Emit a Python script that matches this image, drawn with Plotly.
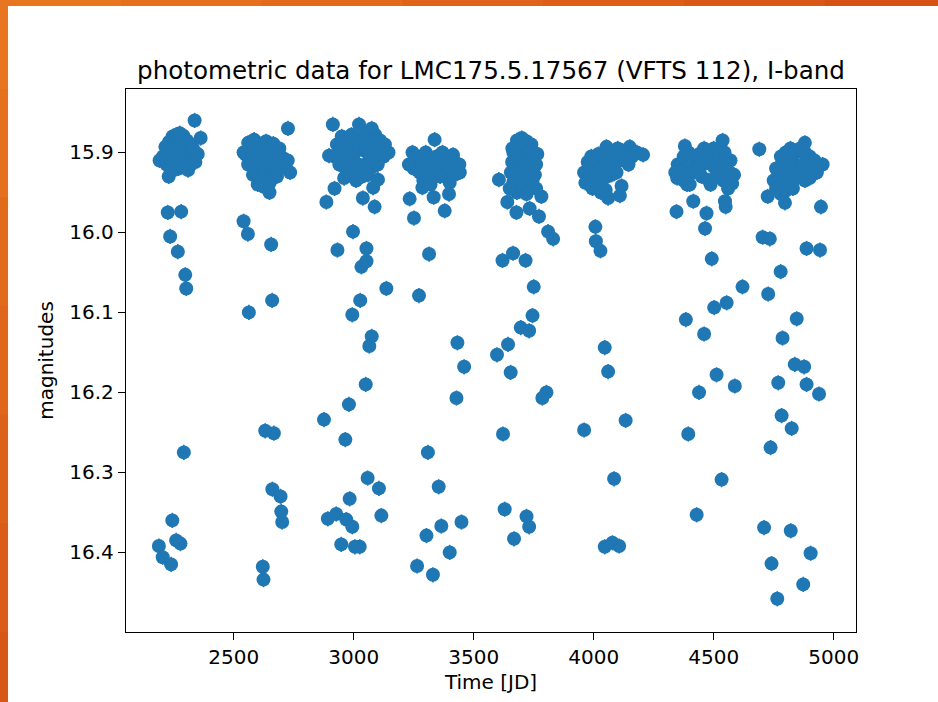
import plotly.graph_objects as go

# ---- data: observing seasons (time [JD], I-band magnitude) ----
t1 = [2191, 2229, 2337, 2362, 2225, 2281, 2235, 2267, 2298, 2302, 2292, 2244, 2188, 2204, 2239, 2260, 2278,
      2215, 2230, 2245, 2260, 2275, 2290, 2305, 2320, 2205, 2225, 2240, 2255, 2270, 2285, 2300, 2315, 2335, 2350,
      2220, 2240, 2260, 2280, 2300, 2320, 2340, 2250, 2270, 2290, 2310, 2265, 2245, 2330]
m1 = [15.910, 15.930, 15.860, 15.882, 15.975, 15.974, 16.005, 16.024, 16.053, 16.070, 16.275, 16.360, 16.392, 16.406, 16.415, 16.385, 16.389,
      15.893, 15.887, 15.880, 15.878, 15.876, 15.879, 15.885, 15.890, 15.905, 15.902, 15.898, 15.893, 15.890, 15.895, 15.900, 15.903, 15.905, 15.902,
      15.915, 15.912, 15.910, 15.908, 15.913, 15.915, 15.912, 15.922, 15.920, 15.918, 15.922, 15.900, 15.918, 15.895]

t2 = [2726, 2541, 2649, 2541, 2559, 2656, 2563, 2660, 2631, 2667, 2621, 2624, 2661, 2695, 2698, 2702,
      2560, 2585, 2610, 2635, 2665, 2690, 2550, 2575, 2600, 2625, 2650, 2675, 2700, 2725, 2560, 2585, 2610, 2635,
      2660, 2685, 2710, 2580, 2605, 2630, 2655, 2680, 2600, 2625, 2650, 2735]
m2 = [15.870, 15.900, 15.950, 15.986, 16.002, 16.015, 16.100, 16.085, 16.248, 16.251, 16.418, 16.434, 16.321, 16.330, 16.349, 16.362,
      15.888, 15.884, 15.890, 15.886, 15.889, 15.895, 15.903, 15.900, 15.905, 15.898, 15.903, 15.900, 15.906, 15.910, 15.915, 15.918, 15.912, 15.920,
      15.915, 15.920, 15.918, 15.928, 15.930, 15.927, 15.932, 15.930, 15.940, 15.943, 15.938, 15.925]

t3 = [2913, 3022, 2897, 2920, 2886, 2997, 2932, 3032, 3053, 3053, 3027, 2994, 3075, 3065, 3050, 2980, 2876, 2965,
      3136, 3058, 3105, 3115, 3025, 2892, 2927, 2969, 2994, 2983, 2948, 3005, 3087, 3101, 3081, 3038,
      2930, 2950, 2970, 2990, 3010, 3030, 3050, 3070, 3090, 3110, 3130, 2920, 2945, 2965, 2985, 3005, 3025, 3045,
      3065, 3085, 3105, 3125, 3145, 2940, 2960, 2980, 3000, 3020, 3040, 3060, 3080, 3100, 2960, 2985, 3010, 3035,
      3060, 2955, 3075]
m3 = [15.865, 15.865, 15.904, 15.945, 15.962, 15.999, 16.022, 16.043, 16.036, 16.020, 16.085, 16.103, 16.130, 16.142, 16.190, 16.215, 16.234, 16.259,
      16.070, 16.307, 16.320, 16.354, 16.393, 16.358, 16.352, 16.359, 16.368, 16.333, 16.390, 16.393, 15.968, 15.934, 15.944, 15.957,
      15.890, 15.880, 15.885, 15.878, 15.882, 15.875, 15.880, 15.885, 15.878, 15.885, 15.890, 15.905, 15.900, 15.898, 15.895, 15.900, 15.895, 15.898,
      15.902, 15.898, 15.902, 15.905, 15.900, 15.915, 15.918, 15.912, 15.920, 15.915, 15.918, 15.912, 15.918, 15.915, 15.932, 15.928, 15.935, 15.930,
      15.928, 15.890, 15.870]

t4 = [3337, 3245, 3233, 3286, 3333, 3397, 3379, 3251, 3314, 3442, 3414, 3272, 3432, 3460, 3428, 3309, 3354, 3365,
      3449, 3303, 3400, 3264, 3330,
      3260, 3285, 3300, 3320, 3345, 3370, 3395, 3420, 3250, 3275, 3300, 3320, 3345, 3370, 3395, 3420, 3290, 3320,
      3360, 3400, 3440, 3230]
m4 = [15.884, 15.900, 15.958, 15.944, 15.956, 15.952, 15.973, 15.982, 16.027, 15.925, 15.903, 16.079, 16.138, 16.168, 16.207, 16.275, 16.318, 16.367,
      16.362, 16.379, 16.400, 16.417, 16.428,
      15.905, 15.910, 15.900, 15.908, 15.905, 15.900, 15.910, 15.912, 15.920, 15.925, 15.918, 15.925, 15.920, 15.915, 15.925, 15.928, 15.935, 15.940,
      15.930, 15.938, 15.915, 15.915]

t5 = [3605, 3661, 3722, 3640, 3678, 3733, 3772, 3782, 3810, 3831, 3620, 3664, 3716, 3750, 3745, 3696, 3731, 3643,
      3597, 3654, 3803, 3786, 3622, 3629, 3720, 3731, 3668,
      3680, 3700, 3720, 3740, 3665, 3685, 3705, 3725, 3745, 3765, 3660, 3680, 3700, 3720, 3740, 3760, 3655, 3675,
      3695, 3715, 3735, 3755, 3665, 3685, 3705, 3725, 3745, 3680, 3700, 3720, 3650, 3760]
m5 = [15.934, 15.895, 15.888, 15.962, 15.975, 15.970, 15.980, 15.955, 15.999, 16.008, 16.035, 16.026, 16.035, 16.068, 16.104, 16.119, 16.123, 16.140,
      16.153, 16.175, 16.200, 16.207, 16.252, 16.346, 16.355, 16.368, 16.383,
      15.885, 15.882, 15.886, 15.890, 15.900, 15.897, 15.895, 15.900, 15.898, 15.902, 15.912, 15.910, 15.908, 15.912, 15.910, 15.915, 15.925, 15.922,
      15.925, 15.920, 15.925, 15.928, 15.937, 15.940, 15.935, 15.938, 15.935, 15.950, 15.947, 15.952, 15.945, 15.945]

t6 = [4053, 4060, 4007, 4009, 4028, 4206, 4150, 4116, 4109, 4046, 4060, 3960, 4133, 4085, 4046, 4078, 4106,
      3960, 3975, 3990, 4005, 4020, 4040, 4060, 4080, 4100, 4120, 4140, 4160, 4180, 3965, 3985, 4005, 4025, 4045,
      4065, 4085, 4105, 4125, 4145, 3995, 4015, 4035, 4055, 4075, 4095, 4030, 4050]
m6 = [15.893, 15.957, 15.993, 16.011, 16.023, 15.903, 15.893, 15.942, 15.954, 16.144, 16.174, 16.247, 16.235, 16.308, 16.393, 16.388, 16.392,
      15.925, 15.912, 15.905, 15.910, 15.902, 15.905, 15.898, 15.900, 15.895, 15.898, 15.902, 15.905, 15.900, 15.938, 15.930, 15.925, 15.920, 15.918,
      15.915, 15.912, 15.910, 15.908, 15.915, 15.945, 15.940, 15.935, 15.930, 15.928, 15.925, 15.950, 15.947]

t7 = [4537, 4380, 4348, 4389, 4487, 4577, 4415, 4345, 4470, 4547, 4550, 4464, 4492, 4620, 4502, 4554, 4384, 4460,
      4512, 4588, 4439, 4394, 4533, 4429,
      4350, 4375, 4395, 4420, 4440, 4460, 4480, 4500, 4525, 4545, 4570, 4340, 4360, 4385, 4410, 4435, 4455, 4475,
      4500, 4520, 4540, 4565, 4585, 4375, 4400, 4450, 4480, 4510, 4540, 4560]
m7 = [15.885, 15.892, 15.932, 15.940, 15.940, 15.939, 15.961, 15.974, 15.976, 15.961, 15.968, 15.995, 16.033, 16.068, 16.094, 16.088, 16.109, 16.127,
      16.178, 16.192, 16.200, 16.252, 16.309, 16.353,
      15.915, 15.905, 15.900, 15.908, 15.902, 15.895, 15.900, 15.895, 15.905, 15.900, 15.910, 15.925, 15.928, 15.920, 15.925, 15.918, 15.915, 15.912,
      15.918, 15.920, 15.915, 15.925, 15.928, 15.935, 15.940, 15.930, 15.935, 15.930, 15.935, 15.945]

t8 = [4690, 4880, 4954, 4725, 4797, 4947, 4704, 4734, 4887, 4943, 4779, 4727, 4846, 4787, 4838, 4877, 4769, 4887,
      4939, 4783, 4825, 4737, 4710, 4821, 4904, 4741, 4873, 4765,
      4760, 4780, 4800, 4820, 4840, 4860, 4880, 4900, 4920, 4750, 4770, 4790, 4810, 4830, 4850, 4870, 4890, 4910,
      4930, 4760, 4780, 4800, 4820, 4840, 4860, 4880, 4900, 4780, 4800, 4830]
m8 = [15.896, 15.888, 15.915, 15.955, 15.963, 15.968, 16.006, 16.008, 16.020, 16.022, 16.049, 16.077, 16.108, 16.132, 16.165, 16.168, 16.188, 16.190,
      16.202, 16.229, 16.245, 16.269, 16.369, 16.373, 16.401, 16.414, 16.440, 16.458,
      15.920, 15.905, 15.900, 15.895, 15.900, 15.895, 15.900, 15.905, 15.910, 15.935, 15.925, 15.918, 15.915, 15.912, 15.918, 15.915, 15.920, 15.918,
      15.925, 15.945, 15.940, 15.935, 15.930, 15.933, 15.930, 15.935, 15.932, 15.952, 15.948, 15.945]

x_ticks = [2500, 3000, 3500, 4000, 4500, 5000]
y_ticks = [15.9, 16.0, 16.1, 16.2, 16.3, 16.4]

times = t1 + t2 + t3 + t4 + t5 + t6 + t7 + t8
mags = m1 + m2 + m3 + m4 + m5 + m6 + m7 + m8

BLUE = "#1f77b4"
FONT = "DejaVu Sans"

fig = go.Figure()
fig.add_trace(go.Scatter(
    x=times, y=mags, mode="markers",
    marker=dict(color=BLUE, size=14, line=dict(width=0)),
    error_y=dict(type="constant", value=0.0095, color=BLUE, thickness=1.6, width=0),
    showlegend=False, hoverinfo="x+y",
))

# slide-style orange border strips (top and left), overlapping segments => no seams
shapes = []
top_cols = ["#E8761F", "#E5701D", "#E26A1B", "#DF6419", "#DC5E17", "#D95815", "#D65213"]
n = len(top_cols)
seg = (1.15 + 0.2) / n
for i, c in enumerate(top_cols):
    x0 = -0.2 + i * seg
    x1 = x0 + seg + (0.02 if i < n - 1 else 0)
    shapes.append(dict(type="rect", xref="paper", yref="paper", x0=x0, x1=x1,
                       y0=1.1529, y1=1.2, fillcolor=c, line=dict(width=0), layer="below"))
left_cols = ["#E8751F", "#E5701D", "#E26B1B", "#DF661A", "#DC6119", "#D95C18", "#D65716"]
m = len(left_cols)
segy = (1.2 + 0.2) / m
for i, c in enumerate(left_cols):
    y1 = 1.2 - i * segy
    y0 = y1 - segy - (0.02 if i < m - 1 else 0)
    shapes.append(dict(type="rect", xref="paper", yref="paper", x0=-0.2, x1=-0.1616,
                       y0=y0, y1=y1, fillcolor=c, line=dict(width=0), layer="below"))

axis_common = dict(
    showgrid=False, zeroline=False, showline=True, linecolor="black", linewidth=1.4,
    mirror=True, ticks="outside", ticklen=7, tickwidth=1.4, tickcolor="black",
    tickfont=dict(family=FONT, size=20, color="black"),
)

fig.update_layout(
    width=938, height=702, autosize=False,
    margin=dict(l=126, r=82, t=89, b=70),
    paper_bgcolor="white", plot_bgcolor="white",
    font=dict(family=FONT, color="black"),
    title=dict(text="photometric data for LMC175.5.17567 (VFTS 112), I-band",
               font=dict(family=FONT, size=24.6, color="black"),
               x=0.5, xref="paper", xanchor="center",
               y=1 - 70 / 702, yref="container", yanchor="middle"),
    xaxis=dict(range=[2051, 5093], tickvals=x_ticks, ticktext=[str(v) for v in x_ticks],
               title=dict(text="Time [JD]", font=dict(family=FONT, size=20, color="black"), standoff=6),
               **axis_common),
    yaxis=dict(range=[16.4995, 15.8207], tickvals=y_ticks, ticktext=[f"{v:.1f}" for v in y_ticks],
               title=dict(text="magnitudes", font=dict(family=FONT, size=20, color="black"), standoff=10),
               **axis_common),
    shapes=shapes,
)

fig.write_html("out.html", config={"displayModeBar": False},
               post_script="document.body.style.margin='0px';document.body.style.overflow='hidden';")
